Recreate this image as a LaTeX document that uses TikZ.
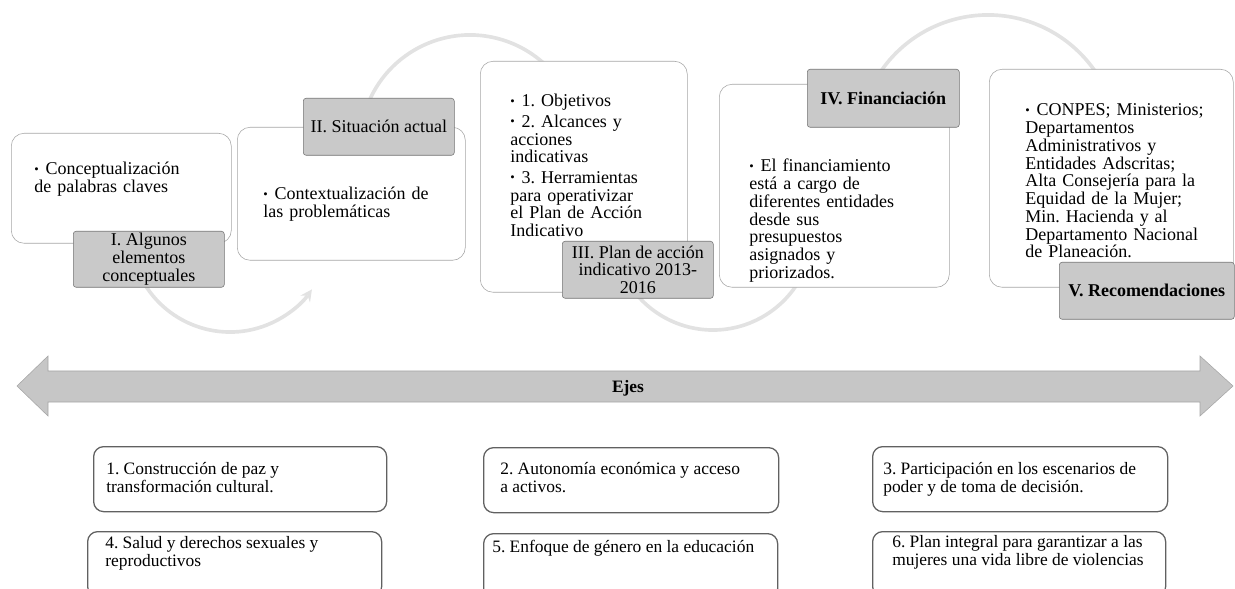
\documentclass[tikz,border=0pt]{standalone}
\usepackage{fontspec}
\setmainfont{Liberation Serif}
\usetikzlibrary{calc}

\definecolor{labelgray}{HTML}{C9C9C9}
\definecolor{arcgray}{HTML}{E2E2E2}
\definecolor{arrowgray}{HTML}{C6C6C6}

\newcommand{\topfont}{\fontsize{12.8}{12.6}\selectfont}
\newcommand{\ejefont}{\fontsize{12.4}{13.2}\selectfont}
\newcommand{\bitem}[1]{\par\hangindent=8pt\hangafter=1\noindent\makebox[8pt][l]{\raisebox{1pt}{\fontsize{9}{9}\selectfont\textbullet}}#1}
\def\pxu{0.025cm}
\frenchspacing

\begin{document}
\begin{tikzpicture}[x=0.025cm, y=-0.025cm,
	whitebox/.style = {draw = black!35, fill = white, rounded corners = 0.32cm, anchor = north west, inner sep = 0pt},
	labelbox/.style = {draw = black!55, fill = labelgray, rounded corners = 2pt, anchor = north west, inner sep = 0pt, align = center, font = \topfont},
	ejebox/.style = {draw = black!62, line width = 0.9pt, fill = white, rounded corners = 0.25cm, anchor = north west, inner sep = 0pt},
	txt/.style = {anchor = north west, inner sep = 0pt, align = left, font = \topfont},
	ejetxt/.style = {anchor = north west, inner sep = 0pt, align = left, font = \ejefont},
	arcline/.style = {arcgray, line width = 2.6pt}]
	
	%page size
	\useasboundingbox (0,0) rectangle (1235,589);
	\clip (0,0) rectangle (1235,589);
	
	%centres of the background arcs
	\coordinate (cA) at (230,232);
	\coordinate (cB) at (470,145);
	\coordinate (cC) at (713,230);
	\coordinate (cD) at (988,145);
	
	%background arcs
	\draw [arcline, -stealth] ($(cA)+(205:2.5cm)$) arc [start angle = 205, end angle = 325, radius = 2.5cm];
	\draw [arcline] ($(cB)+(160:2.75cm)$) arc [start angle = 160, end angle = 40, radius = 2.75cm];
	\draw [arcline] ($(cC)+(215:2.5cm)$) arc [start angle = 215, end angle = 330, radius = 2.5cm];
	\draw [arcline] ($(cD)+(150:3.25cm)$) arc [start angle = 150, end angle = 30, radius = 3.25cm];
	
	%white boxes
	\node [whitebox, minimum width = 220*\pxu, minimum height = 110*\pxu] (boxI) at (11,133) {};
	\node [whitebox, minimum width = 228*\pxu, minimum height = 133*\pxu] (boxII) at (237,127) {};
	\node [whitebox, minimum width = 207*\pxu, minimum height = 231*\pxu] (boxIII) at (480,61) {};
	\node [whitebox, minimum width = 230*\pxu, minimum height = 203*\pxu] (boxIV) at (719,84) {};
	\node [whitebox, minimum width = 244*\pxu, minimum height = 218*\pxu] (boxV) at (989,69) {};
	
	%labels
	\node [labelbox, minimum width = 151*\pxu, minimum height = 56*\pxu] (labI) at (73,231) {I. Algunos\\elementos\\conceptuales};
	\node [labelbox, minimum width = 151*\pxu, minimum height = 57*\pxu] (labII) at (303,98) {II. Situación actual};
	\node [labelbox, minimum width = 151*\pxu, minimum height = 57*\pxu] (labIII) at (562,241) {III. Plan de acción\\indicativo 2013-\\2016};
	\node [labelbox, minimum width = 152*\pxu, minimum height = 58*\pxu] (labIV) at (807,69) {\bfseries IV. Financiación};
	\node [labelbox, minimum width = 175*\pxu, minimum height = 57*\pxu] (labV) at (1059,262) {\bfseries V. Recomendaciones};
	
	%bullet texts
	\node [txt, text width = 5cm] (txtI) at (34,157) {\bitem{Conceptualización\\de palabras claves}};
	\node [txt, text width = 5cm] (txtII) at (263,182) {\bitem{Contextualización de\\las problemáticas}};
	\node [txt, text width = 5cm] (txtIII) at (510,86) {\parskip=2pt
		\bitem{1. Objetivos}
		\bitem{2. Alcances y\\acciones\\indicativas}
		\bitem{3. Herramientas\\para operativizar\\el Plan de Acción\\Indicativo}};
	\node [txt, text width = 5cm] (txtIV) at (749,154) {\bitem{El financiamiento\\está a cargo de\\diferentes entidades\\desde sus\\presupuestos\\asignados y\\priorizados.}};
	\node [txt, text width = 5cm] (txtV) at (1025,98) {\bitem{CONPES; Ministerios;\\Departamentos\\Administrativos y\\Entidades Adscritas;\\Alta Consejería para la\\Equidad de la Mujer;\\Min. Hacienda y al\\Departamento Nacional\\de Planeación.}};
	
	%axis arrow
	\draw [draw = black!35, fill = arrowgray] (17,386) -- (48,356) -- (48,371) -- (1200,371) -- (1200,356) -- (1233,386) -- (1200,416) -- (1200,402) -- (48,402) -- (48,416) -- cycle;
	\node [font = \ejefont\bfseries] (ejes) at (628,388) {Ejes};
	
	%axes boxes
	\node [ejebox, minimum width = 293*\pxu, minimum height = 65*\pxu] (ejeI) at (93,446) {};
	\node [ejebox, minimum width = 295*\pxu, minimum height = 65*\pxu] (ejeII) at (483,447) {};
	\node [ejebox, minimum width = 295*\pxu, minimum height = 65*\pxu] (ejeIII) at (872,446) {};
	\node [ejebox, minimum width = 294*\pxu, minimum height = 65*\pxu] (ejeIV) at (87,531) {};
	\node [ejebox, minimum width = 294*\pxu, minimum height = 65*\pxu] (ejeV) at (483,533) {};
	\node [ejebox, minimum width = 293*\pxu, minimum height = 65*\pxu] (ejeVI) at (872,531) {};
	
	\node [ejetxt] (tI) at (106,462) {1. Construcción de paz y\\transformación cultural.};
	\node [ejetxt] (tII) at (500,462) {2. Autonomía económica y acceso\\a activos.};
	\node [ejetxt] (tIII) at (883,462) {3. Participación en los escenarios de\\poder y de toma de decisión.};
	\node [ejetxt] (tIV) at (105,536) {4. Salud y derechos sexuales y\\reproductivos};
	\node [ejetxt] (tV) at (492,540) {5. Enfoque de género en la educación};
	\node [ejetxt] (tVI) at (892,535) {6. Plan integral para garantizar a las\\mujeres una vida libre de violencias};
\end{tikzpicture}
\end{document}
